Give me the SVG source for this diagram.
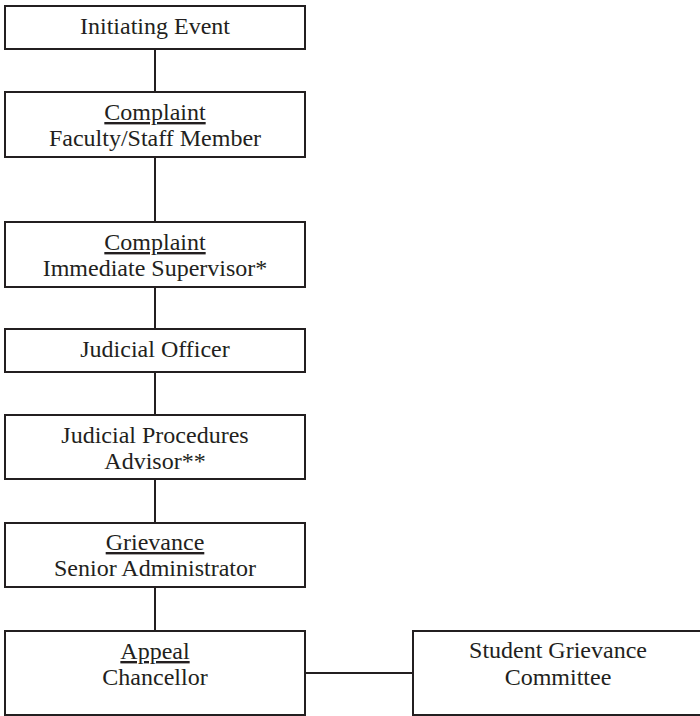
<svg xmlns="http://www.w3.org/2000/svg" width="700" height="716" viewBox="0 0 700 716">
<style>
rect{fill:#fff;stroke:#231f20;stroke-width:2}
line{stroke:#231f20;stroke-width:2}
text{font-family:"Liberation Serif","Times New Roman",serif;font-size:24px;fill:#231f20;text-anchor:middle}
.u{text-decoration:underline}
</style>
<rect x="0" y="0" width="700" height="716" style="fill:#fff;stroke:none"/>
<g id="connectors">
<line x1="155" y1="49" x2="155" y2="92"/>
<line x1="155" y1="157" x2="155" y2="222"/>
<line x1="155" y1="287" x2="155" y2="329"/>
<line x1="155" y1="372" x2="155" y2="415"/>
<line x1="155" y1="479" x2="155" y2="523"/>
<line x1="155" y1="587" x2="155" y2="631"/>
<line x1="305" y1="673" x2="413" y2="673"/>
</g>
<g id="n1"><rect x="5" y="6" width="300" height="43"/><text x="155" y="34">Initiating Event</text></g>
<g id="n2"><rect x="5" y="92" width="300" height="65"/><text x="155" y="120" class="u">Complaint</text><text x="155" y="146">Faculty/Staff Member</text></g>
<g id="n3"><rect x="5" y="222" width="300" height="65"/><text x="155" y="250" class="u">Complaint</text><text x="155" y="276">Immediate Supervisor*</text></g>
<g id="n4"><rect x="5" y="329" width="300" height="43"/><text x="155" y="357">Judicial Officer</text></g>
<g id="n5"><rect x="5" y="415" width="300" height="64"/><text x="155" y="443">Judicial Procedures</text><text x="155" y="469">Advisor**</text></g>
<g id="n6"><rect x="5" y="523" width="300" height="64"/><text x="155" y="550" class="u">Grievance</text><text x="155" y="576">Senior Administrator</text></g>
<g id="n7"><rect x="5" y="631" width="300" height="84"/><text x="155" y="659" class="u">Appeal</text><text x="155" y="685">Chancellor</text></g>
<g id="n8"><rect x="413" y="631" width="290" height="84"/><text x="558" y="658">Student Grievance</text><text x="558" y="685">Committee</text></g>
</svg>
